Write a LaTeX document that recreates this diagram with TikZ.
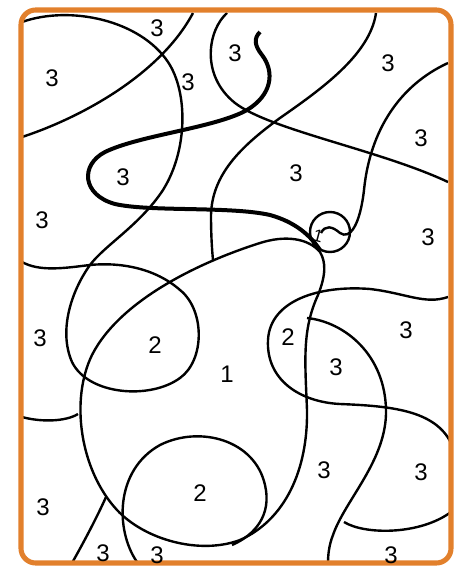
\documentclass[tikz,border=0pt]{standalone}
\usepackage{fontspec}
\setmainfont{Liberation Sans}
\usepackage{tikz}
\usetikzlibrary{arrows,arrows.meta}
\usetikzlibrary{calc}
\definecolor{frameorange}{RGB}{226,128,44}
\tikzset{
  num/.style={inner sep=0.75pt, font=\fontsize{18}{18}\selectfont},
  smallnum/.style={inner sep=0.75pt, font=\fontsize{13}{13}\selectfont},
  outline/.style={color={rgb, 255:red, 0; green, 0; blue, 0}, draw opacity=1, line width=1.8pt},
  boldline/.style={outline, line width=3pt}
}

\begin{document}
\begin{tikzpicture}[x=0.75pt,y=0.75pt,yscale=-1,xscale=1]
\useasboundingbox (0,0) rectangle (462,570);

%Curve Lines (top left arc, loop round the left 2)
\draw [outline] (22,22) .. controls (70,5) and (140,20) .. (168,62) .. controls (188,92) and (188,150) .. (163,190) .. controls (140,225) and (105,245) .. (90,265) .. controls (72,290) and (58,330) .. (72,362) .. controls (88,395) and (150,400) .. (180,378) .. controls (205,360) and (205,310) .. (180,290) .. controls (155,268) and (120,262) .. (90,265) .. controls (65,268) and (40,272) .. (22,262) ;
%Curve Lines
\draw [outline] (22,137) .. controls (80,118) and (160,75) .. (193,13) ;
%Curve Lines
\draw [outline] (227,13) .. controls (208,30) and (200,75) .. (235,103) .. controls (270,130) and (380,150) .. (448,182) ;
%Curve Lines
\draw [outline] (376,13) .. controls (370,55) and (320,90) .. (280,118) .. controls (240,147) and (212,175) .. (211,215) .. controls (211,235) and (212,250) .. (213,260) ;
%Curve Lines (thick one)
\draw [boldline] (260,32) .. controls (254,38) and (254,45) .. (262,55) .. controls (275,72) and (272,95) .. (247,110) .. controls (215,128) and (140,135) .. (105,152) .. controls (80,165) and (82,195) .. (115,204) .. controls (150,212) and (230,206) .. (270,215) .. controls (295,222) and (310,235) .. (320,250) ;
%Curve Lines (into the small loop)
\draw [outline] (448,63) .. controls (400,85) and (370,130) .. (364,190) .. controls (360,225) and (350,240) .. (340,233) .. controls (332,226) and (325,225) .. (321,233) ;
%Shape: Ellipse
\draw [outline] (350,232) .. controls (350,220.95) and (341.05,212) .. (330,212) .. controls (318.95,212) and (310,220.95) .. (310,232) .. controls (310,243.05) and (318.95,252) .. (330,252) .. controls (341.05,252) and (350,243.05) .. (350,232) -- cycle ;
%Shape: Free Drawing (the pear)
\draw [outline] (320,252) .. controls (308,238) and (285,235) .. (260,243) .. controls (200,262) and (120,300) .. (92,355) .. controls (70,400) and (80,470) .. (117,510) .. controls (145,540) and (200,555) .. (240,540) .. controls (285,520) and (308,470) .. (307,410) .. controls (305,360) and (302,330) .. (318,295) .. controls (326,275) and (326,262) .. (320,252) -- cycle ;
%Curve Lines (bottom 2)
\draw [outline] (137,562) .. controls (115,530) and (115,470) .. (160,445) .. controls (200,425) and (255,440) .. (265,485) .. controls (272,515) and (255,535) .. (232,545) ;
%Curve Lines
\draw [outline] (72,563) .. controls (85,540) and (98,515) .. (106,497) ;
%Curve Lines
\draw [outline] (22,417) .. controls (40,422) and (65,422) .. (78,414) ;
%Curve Lines (right 2)
\draw [outline] (448,297) .. controls (425,305) and (405,293) .. (370,289) .. controls (320,285) and (270,300) .. (268,340) .. controls (266,380) and (300,402) .. (340,404) .. controls (390,406) and (435,410) .. (451,443) ;
%Curve Lines
\draw [outline] (307,318) .. controls (345,322) and (385,355) .. (386,410) .. controls (387,460) and (345,500) .. (333,535) .. controls (329,545) and (328,555) .. (328,563) ;
%Curve Lines
\draw [outline] (344,522) .. controls (365,535) and (420,535) .. (451,512) ;

%Shape: Rectangle (frame)
\draw [color=frameorange, line width=3.8pt, rounded corners=11pt] (21,10) rectangle (451,563) ;

% Text Node
\draw (157,28) node (t1) [num] {3};
\draw (52,78) node (t2) [num] {3};
\draw (188,82) node (t3) [num] {3};
\draw (235,53) node (t4) [num] {3};
\draw (388,63) node (t5) [num] {3};
\draw (421,138) node (t6) [num] {3};
\draw (123,177) node (t7) [num] {3};
\draw (296,173) node (t8) [num] {3};
\draw (42,220) node (t9) [num] {3};
\draw (428,237) node (t10) [num] {3};
\draw (318,236) node (t11) [smallnum, rotate=-15] {1};
\draw (40,338) node (t12) [num] {3};
\draw (155,345) node (t13) [num] {2};
\draw (288,337) node (t14) [num] {2};
\draw (406,330) node (t15) [num] {3};
\draw (227,374) node (t16) [num] {1};
\draw (336,367) node (t17) [num] {3};
\draw (324,470) node (t18) [num] {3};
\draw (421,472) node (t19) [num] {3};
\draw (200,493) node (t20) [num] {2};
\draw (43,507) node (t21) [num] {3};
\draw (103,553) node (t22) [num] {3};
\draw (157,555) node (t23) [num] {3};
\draw (391,555) node (t24) [num] {3};

\end{tikzpicture}
\end{document}
